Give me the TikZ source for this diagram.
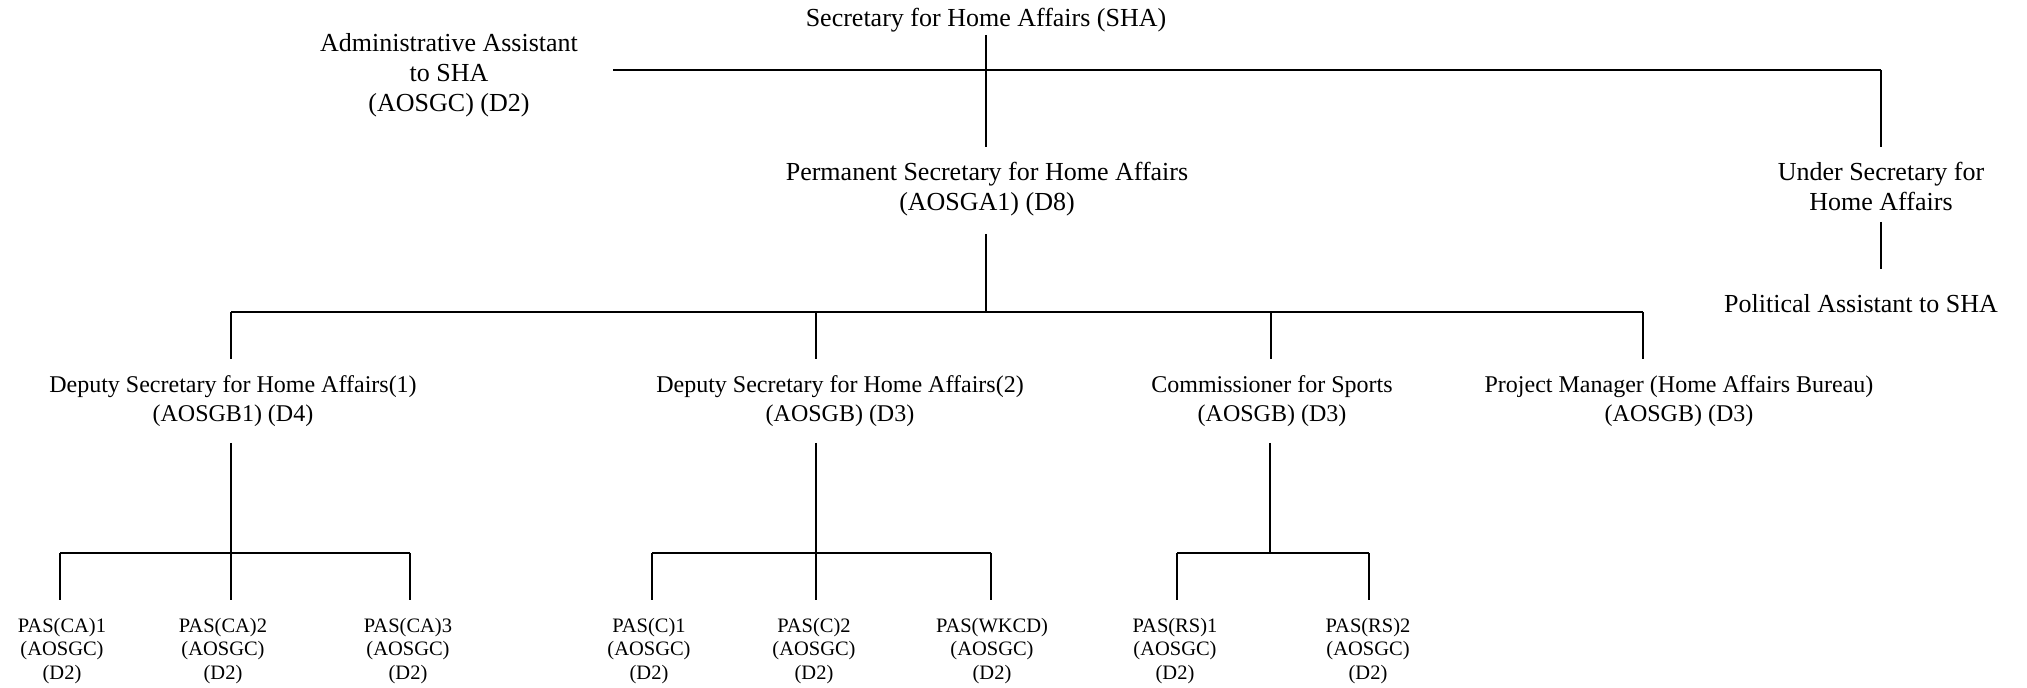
\documentclass[tikz,border=0pt]{standalone}
\usepackage{fontspec}
\setmainfont{Liberation Serif}
\begin{document}
\begin{tikzpicture}[x=0.5pt,y=-0.5pt,line width=1pt,
  big/.style={font=\fontsize{13}{15}\selectfont,align=center,inner sep=0pt,anchor=base},
  mid/.style={font=\fontsize{12}{14.5}\selectfont,align=center,inner sep=0pt,anchor=base},
  small/.style={font=\fontsize{10.25}{11.7}\selectfont,align=center,inner sep=0pt,anchor=base},
  conn/.style={line width=1pt},
  bar/.style={line width=1.3pt}]
\useasboundingbox (0,0) rectangle (2027,688);
% nodes (anchor = baseline of the last line)
\node[big] (sha) at (986,27) {Secretary for Home Affairs (SHA)};
\node[big] (admin) at (449,112) {Administrative Assistant\\to SHA\\(AOSGC) (D2)};
\node[big] (perm) at (987,211) {Permanent Secretary for Home Affairs\\(AOSGA1) (D8)};
\node[big] (usec) at (1881,211) {Under Secretary for\\Home Affairs};
\node[big] (pa) at (1861,313) {Political Assistant to SHA};
\node[mid] (ds1) at (233,422) {Deputy Secretary for Home Affairs(1)\\(AOSGB1) (D4)};
\node[mid] (ds2) at (840,422) {Deputy Secretary for Home Affairs(2)\\(AOSGB) (D3)};
\node[mid] (sp) at (1272,422) {Commissioner for Sports\\(AOSGB) (D3)};
\node[mid] (pm) at (1679,422) {Project Manager (Home Affairs Bureau)\\(AOSGB) (D3)};
\node[small] (ca1) at (62,679) {PAS(CA)1\\(AOSGC)\\(D2)};
\node[small] (ca2) at (223,679) {PAS(CA)2\\(AOSGC)\\(D2)};
\node[small] (ca3) at (408,679) {PAS(CA)3\\(AOSGC)\\(D2)};
\node[small] (c1) at (649,679) {PAS(C)1\\(AOSGC)\\(D2)};
\node[small] (c2) at (814,679) {PAS(C)2\\(AOSGC)\\(D2)};
\node[small] (wk) at (992,679) {PAS(WKCD)\\(AOSGC)\\(D2)};
\node[small] (rs1) at (1175,679) {PAS(RS)1\\(AOSGC)\\(D2)};
\node[small] (rs2) at (1368,679) {PAS(RS)2\\(AOSGC)\\(D2)};
% connector ends
\coordinate (shaB) at (986,35);
\coordinate (permT) at (986,147);
\coordinate (topbar) at (986,70);
\coordinate (adminR) at (613,70);
\coordinate (usecT) at (1881,147);
\coordinate (usecB) at (1881,222);
\coordinate (paT) at (1881,269);
\coordinate (permB) at (986,234);
\coordinate (bar2) at (986,312);
\coordinate (ds1T) at (231,359);
\coordinate (ds2T) at (816,359);
\coordinate (spT) at (1271,359);
\coordinate (pmT) at (1643,359);
\coordinate (ds1B) at (231,443);
\coordinate (ds2B) at (816,443);
\coordinate (spB) at (1270,443);
\coordinate (g1) at (231,553);
\coordinate (g2) at (816,553);
\coordinate (g3) at (1270,553);
\coordinate (ca1T) at (60,600);
\coordinate (ca2T) at (231,600);
\coordinate (ca3T) at (410,600);
\coordinate (c1T) at (652,600);
\coordinate (c2T) at (816,600);
\coordinate (wkT) at (991,600);
\coordinate (rs1T) at (1177,600);
\coordinate (rs2T) at (1369,600);
% connectors
\draw[conn] (shaB) -- (permT);
\draw[bar] (adminR) -- (usecT |- topbar);
\draw[conn] (usecT |- topbar) -- (usecT);
\draw[conn] (usecB) -- (paT);
\draw[conn] (permB) -- (bar2);
\draw[bar] (ds1T |- bar2) -- (pmT |- bar2);
\draw[conn] (ds1T |- bar2) -- (ds1T);
\draw[conn] (ds2T |- bar2) -- (ds2T);
\draw[conn] (spT |- bar2) -- (spT);
\draw[conn] (pmT |- bar2) -- (pmT);
% group 1
\draw[conn] (ds1B) -- (ca2T);
\draw[bar] (ca1T |- g1) -- (ca3T |- g1);
\draw[conn] (ca1T |- g1) -- (ca1T);
\draw[conn] (ca3T |- g1) -- (ca3T);
% group 2
\draw[conn] (ds2B) -- (c2T);
\draw[bar] (c1T |- g2) -- (wkT |- g2);
\draw[conn] (c1T |- g2) -- (c1T);
\draw[conn] (wkT |- g2) -- (wkT);
% group 3
\draw[conn] (spB) -- (g3);
\draw[bar] (rs1T |- g3) -- (rs2T |- g3);
\draw[conn] (rs1T |- g3) -- (rs1T);
\draw[conn] (rs2T |- g3) -- (rs2T);
\end{tikzpicture}
\end{document}
